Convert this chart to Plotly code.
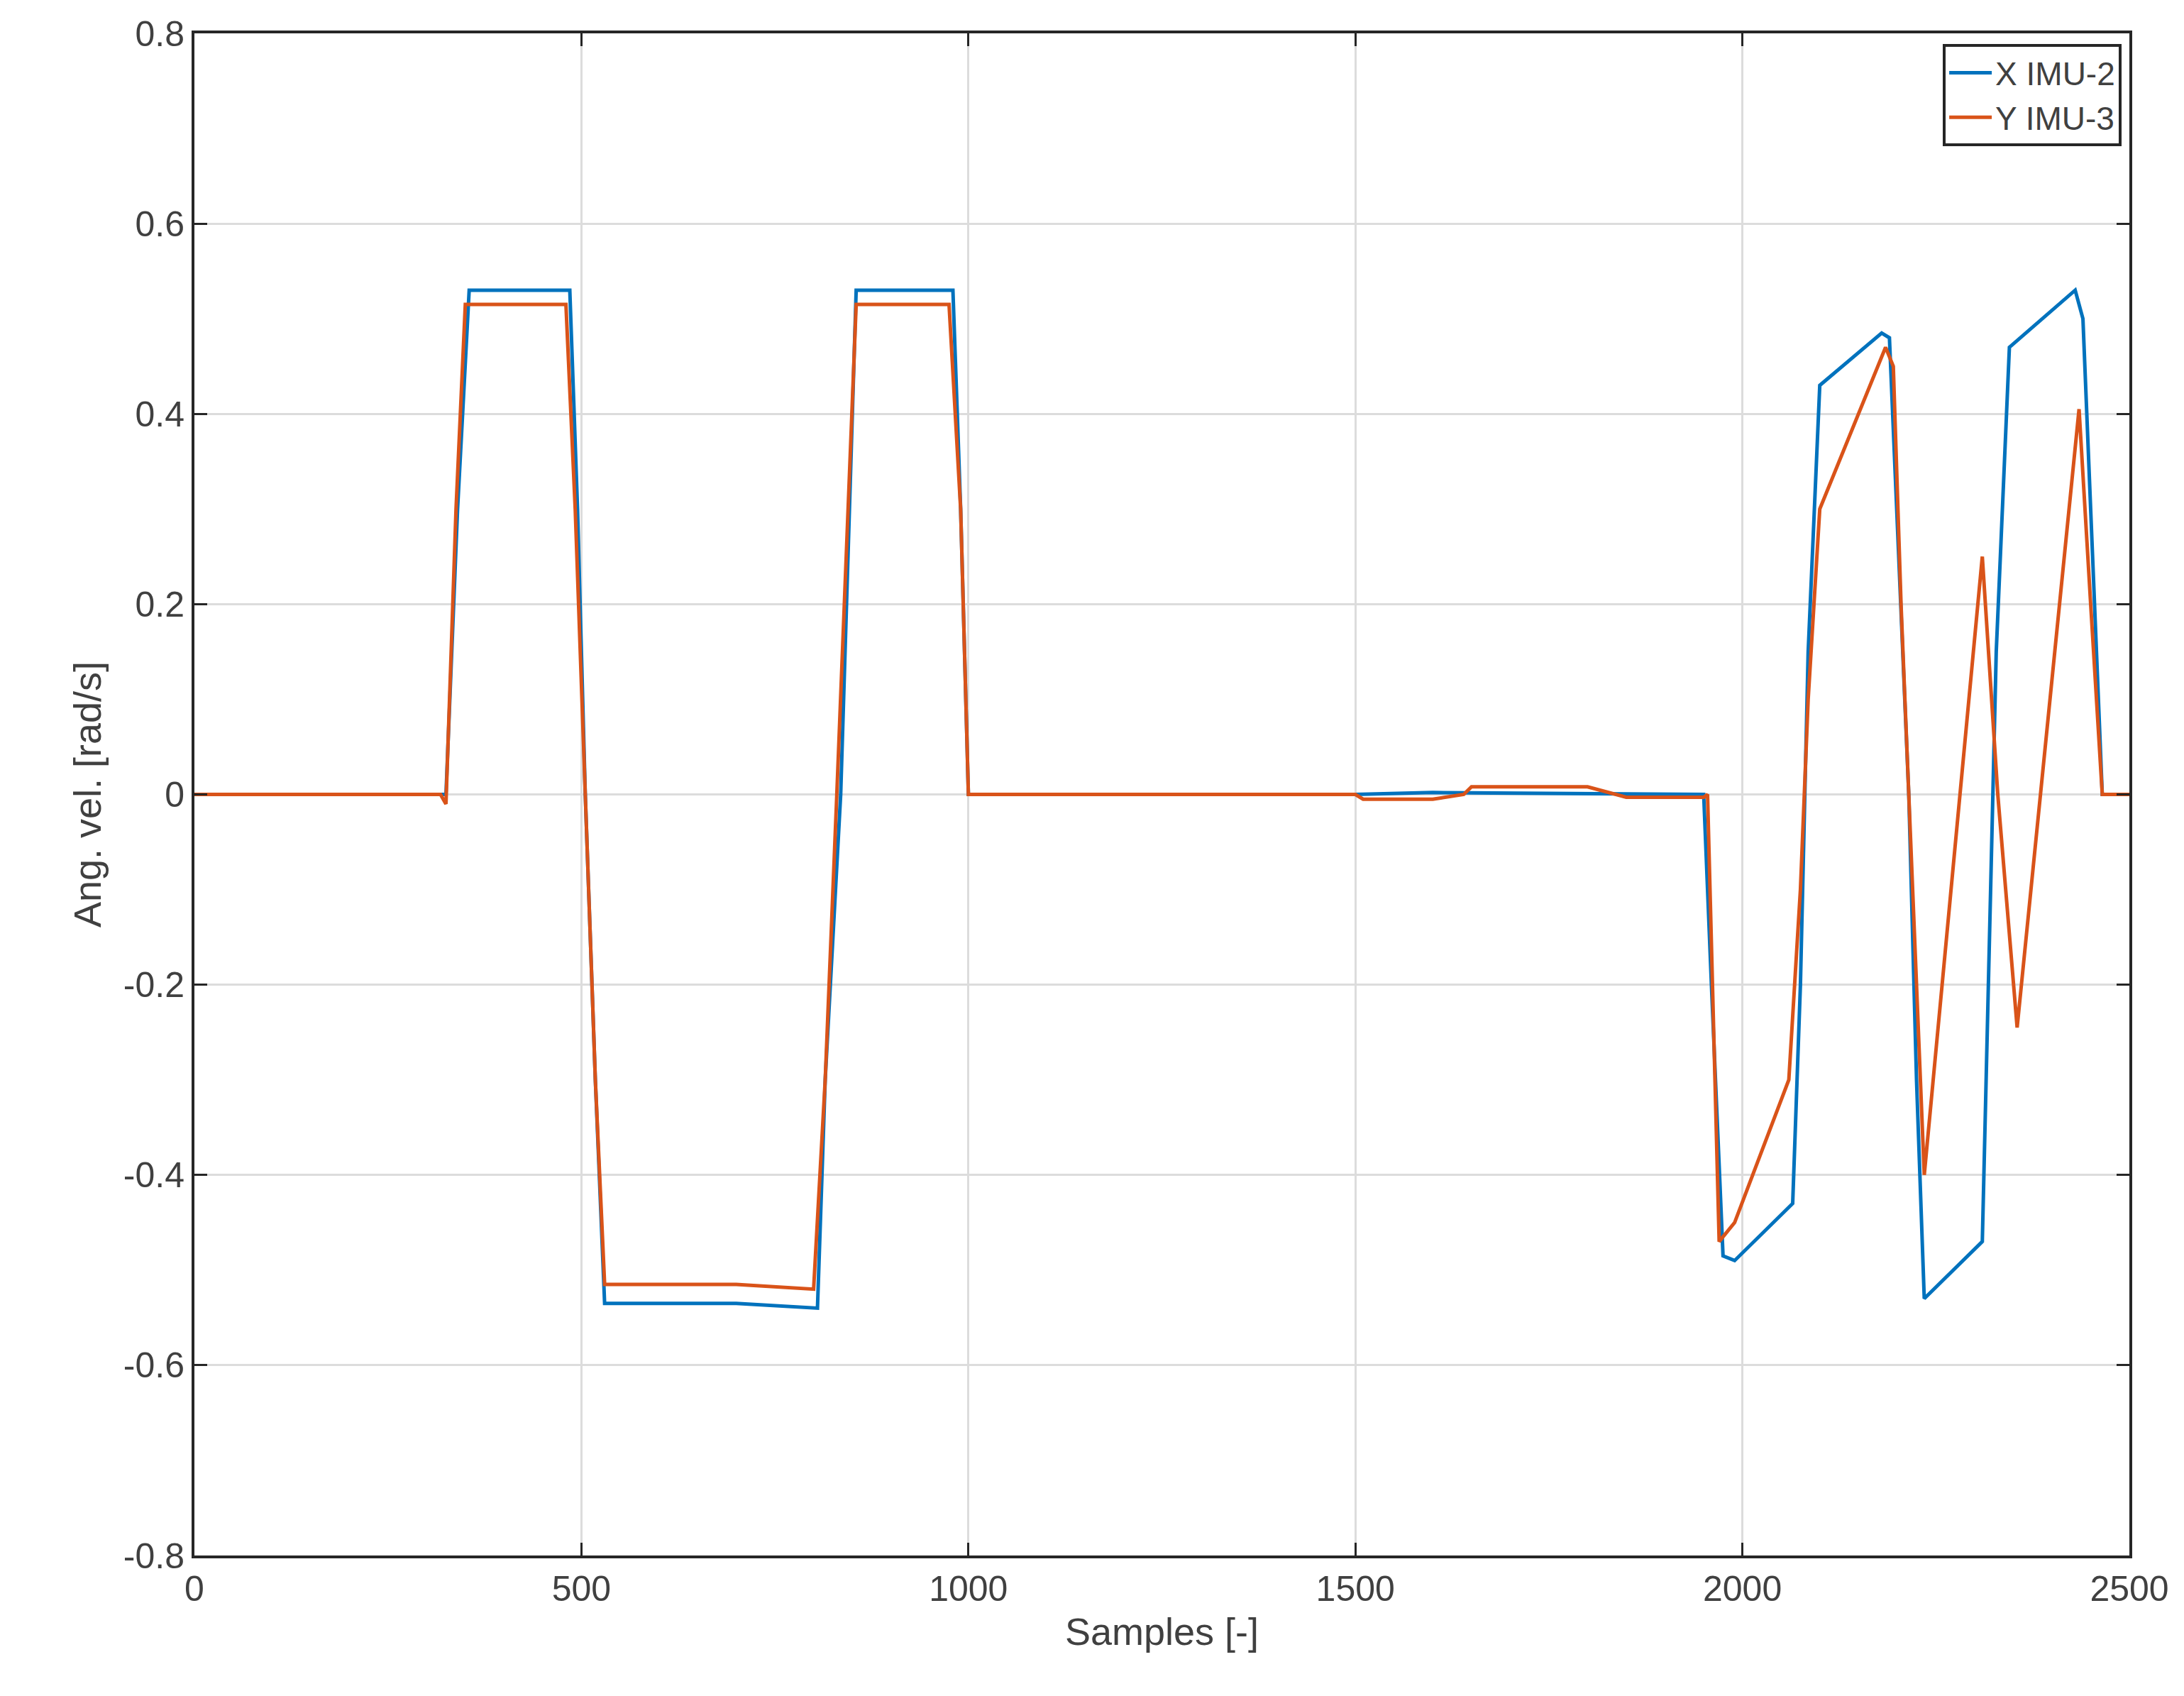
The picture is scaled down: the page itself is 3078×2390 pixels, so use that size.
import plotly.graph_objects as go

# breakpoints (sample index, rad/s)
x_imu2_t = [0, 325, 340, 355, 485, 495, 505, 518, 530, 700, 805, 815, 835, 855, 980, 990, 1000,
            1500, 1600, 1950, 1960, 1975, 1990, 2065, 2075, 2085, 2100, 2180, 2190, 2205,
            2215, 2225, 2235, 2310, 2318, 2328, 2345, 2430, 2440, 2455, 2465, 2500]
x_imu2_v = [0, 0, 0.3, 0.53, 0.53, 0.3, 0, -0.3, -0.535, -0.535, -0.54, -0.3, 0, 0.53, 0.53, 0.3, 0,
            0, 0.002, 0, -0.2, -0.485, -0.49, -0.43, -0.2, 0.15, 0.43, 0.485, 0.48, 0.2,
            0, -0.3, -0.53, -0.47, -0.2, 0.15, 0.47, 0.53, 0.5, 0.2, 0, 0]

y_imu3_t = [0, 318, 325, 338, 350, 480, 492, 505, 518, 530, 700, 800, 815, 830, 855, 975, 990, 1000,
            1500, 1510, 1600, 1640, 1650, 1800, 1850, 1950, 1955, 1970, 1990, 2060, 2075,
            2085, 2100, 2185, 2195, 2205, 2215, 2235, 2310, 2330, 2355, 2435, 2450, 2465, 2500]
y_imu3_v = [0, 0, -0.01, 0.3, 0.515, 0.515, 0.3, 0, -0.3, -0.515, -0.515, -0.52, -0.3, 0, 0.515, 0.515, 0.3, 0,
            0, -0.005, -0.005, 0.0, 0.008, 0.008, -0.003, -0.003, 0, -0.47, -0.45, -0.3, -0.1,
            0.1, 0.3, 0.47, 0.45, 0.2, 0, -0.4, 0.25, 0, -0.245, 0.405, 0.2, 0, 0]

y_ticks = [-0.8, -0.6, -0.4, -0.2, 0, 0.2, 0.4, 0.6, 0.8]
y_tick_text = ["-0.8", "-0.6", "-0.4", "-0.2", "0", "0.2", "0.4", "0.6", "0.8"]

fig = go.Figure()
fig.add_trace(go.Scatter(x=x_imu2_t, y=x_imu2_v, mode="lines", name="X IMU-2",
                         line=dict(color="#0072BD", width=5)))
fig.add_trace(go.Scatter(x=y_imu3_t, y=y_imu3_v, mode="lines", name="Y IMU-3",
                         line=dict(color="#D95319", width=5)))

axis_style = dict(showline=True, linecolor="#262626", linewidth=4, mirror="ticks",
                  ticks="inside", ticklen=18, tickwidth=3, tickcolor="#262626",
                  showgrid=True, gridcolor="#dcdcdc", gridwidth=3, zeroline=False,
                  tickfont=dict(size=50, color="#404040"),
                  title_font=dict(size=54, color="#404040"))

fig.update_layout(
    width=3078, height=2390,
    margin=dict(l=266, r=85, t=39, b=206),
    plot_bgcolor="white", paper_bgcolor="white",
    font=dict(family="Liberation Sans, Arial", color="#262626"),
    xaxis=dict(range=[0, 2500], dtick=500, title=dict(text="Samples [-]", standoff=15), **axis_style),
    yaxis=dict(range=[-0.8, 0.8], tickvals=y_ticks, ticktext=y_tick_text,
               title=dict(text="Ang. vel. [rad/s]", standoff=15), **axis_style),
    legend=dict(x=0.996, y=0.993, xanchor="right", yanchor="top",
                bgcolor="white", bordercolor="#262626", borderwidth=4,
                font=dict(size=46, color="#404040"), itemwidth=60),
)

fig.write_html("out.html")
